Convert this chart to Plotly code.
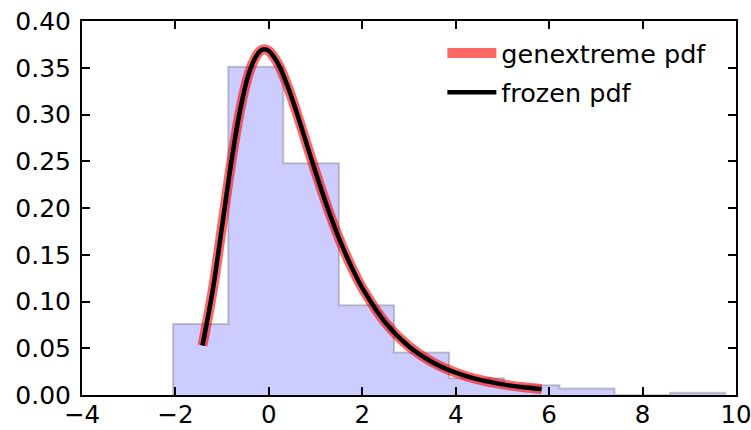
import plotly.graph_objects as go

# Histogram (density) of samples: bin edges and heights
bin_edges = [-2.05, -0.87, 0.31, 1.50, 2.68, 3.86, 5.04, 6.22, 7.40, 8.59, 9.77]
bin_heights = [0.0760, 0.351, 0.2478, 0.096, 0.0455, 0.018, 0.0105, 0.007, 0.0, 0.0023]

# genextreme pdf curve
curve_x = [-1.42, -1.2, -1.0, -0.8, -0.6, -0.4, -0.2, -0.1, 0.0, 0.2, 0.4, 0.6, 0.8,
           1.0, 1.25, 1.5, 1.75, 2.0, 2.5, 3.0, 3.5, 4.0, 4.5, 5.0, 5.5, 5.84]
curve_y = [0.0529, 0.1126, 0.1810, 0.2503, 0.3085, 0.3482, 0.3673, 0.3697, 0.3679,
           0.3541, 0.3306, 0.3014, 0.2699, 0.2384, 0.2012, 0.1679, 0.1390, 0.1145,
           0.0772, 0.0519, 0.0351, 0.0239, 0.0164, 0.01136, 0.00796, 0.00629]

x_ticks = [-4, -2, 0, 2, 4, 6, 8, 10]
y_ticks = [0.00, 0.05, 0.10, 0.15, 0.20, 0.25, 0.30, 0.35, 0.40]

series_names = ["genextreme pdf", "frozen pdf"]

# step outline for the stepfilled histogram
step_x = [bin_edges[0]] + bin_edges + [bin_edges[-1]]
step_y = [0.0] + bin_heights + [bin_heights[-1], 0.0]

fig = go.Figure()
fig.add_trace(go.Scatter(
    x=step_x, y=step_y, mode="lines", line=dict(shape="hv", color="rgba(0,0,0,0.2)", width=2),
    fill="tozeroy", fillcolor="rgba(0,0,255,0.2)", showlegend=False, hoverinfo="skip"))
fig.add_trace(go.Scatter(
    x=curve_x, y=curve_y, mode="lines", name=series_names[0], legendgroup="a",
    line=dict(color="rgba(255,0,0,0.6)", width=10, shape="spline")))
fig.add_trace(go.Scatter(
    x=curve_x, y=curve_y, mode="lines", name=series_names[1], legendgroup="b",
    line=dict(color="black", width=4.5, shape="spline")))

axis_common = dict(
    showgrid=False, zeroline=False, showline=True, linecolor="black", linewidth=2,
    mirror="ticks", ticks="inside", ticklen=8, tickwidth=1.5, tickcolor="black",
    automargin=False, ticklabeloverflow="allow",
)
fig.update_xaxes(range=[-4, 10], tickvals=x_ticks, ticklabelstandoff=-3,
                 tickfont=dict(family="DejaVu Sans", size=24.5, color="black"), **axis_common)
fig.update_yaxes(range=[0, 0.4], tickvals=y_ticks, tickformat=".2f", ticklabelstandoff=4,
                 tickfont=dict(family="DejaVu Sans", size=25, color="black"), **axis_common)

fig.update_layout(
    width=751, height=430,
    margin=dict(l=82, r=15, t=21, b=35),
    plot_bgcolor="white", paper_bgcolor="white",
    font=dict(family="DejaVu Sans", size=25, color="black"),
    legend=dict(x=0.551, y=0.976, xanchor="left", yanchor="top", bgcolor="rgba(0,0,0,0)",
                font=dict(family="DejaVu Sans", size=25.5, color="black"), itemwidth=49,
                tracegroupgap=3),
)

fig.write_html("out.html", config={"displayModeBar": False},
               post_script="document.body.style.margin='0';")
